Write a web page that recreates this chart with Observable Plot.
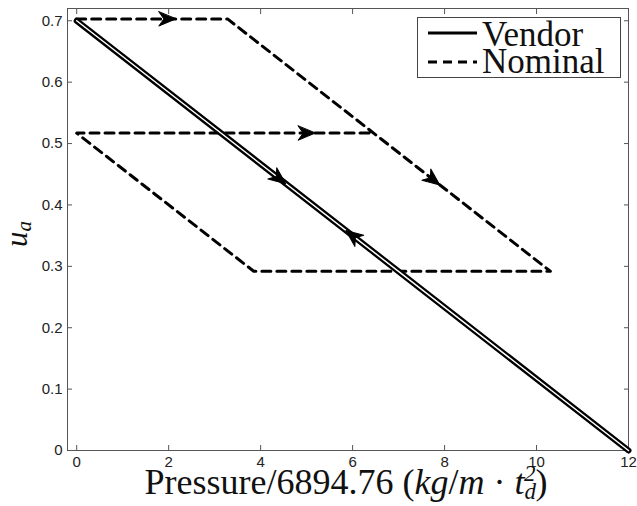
<!DOCTYPE html>
<html><head><meta charset="utf-8">
<script src="https://cdn.jsdelivr.net/npm/d3@7"></script>
<script src="https://cdn.jsdelivr.net/npm/@observablehq/plot@0.6"></script>
<style>body{margin:0;background:#fff} #chart{width:637px;height:506px}</style>
</head><body><div id="chart"></div>
<script>
// ---- data ----
const xTicks = [0, 2, 4, 6, 8, 10, 12];
const yTicks = [0, 0.1, 0.2, 0.3, 0.4, 0.5, 0.6, 0.7];
const seriesNames = ["Vendor", "Nominal"];

const vendorX = [0, 12];
const vendorY = [0.70, 0];

const nominalX = [0, 3.28, 10.3, 3.85, 0, 6.4];
const nominalY = [0.703, 0.703, 0.292, 0.292, 0.517, 0.517];

// arrowheads: position and direction (data units)
const arrowX  = [1.97, 5.0, 7.75, 4.4, 6.0];
const arrowY  = [0.703, 0.517, 0.441, 0.443, 0.35];
const arrowDX = [1, 1, 7.02, 12, -12];
const arrowDY = [0, 0, -0.411, -0.7, 0.7];

// ---- layout ----
const W = 637, H = 506, mL = 67, mR = 9, mT = 8, mB = 56;
const xDomain = [-0.2, 12], yDomain = [0, 0.72];

const vendor = vendorX.map((x, i) => ({x, y: vendorY[i]}));
const nominal = nominalX.map((x, i) => ({x, y: nominalY[i]}));

const sx = Plot.scale({x: {domain: xDomain, range: [mL, W - mR]}});
const sy = Plot.scale({y: {domain: yDomain, range: [H - mB, mT]}});
const arrows = arrowX.map((x, i) => {
  const a = sx.apply(x + arrowDX[i]) - sx.apply(x);
  const b = sy.apply(arrowY[i] + arrowDY[i]) - sy.apply(arrowY[i]);
  return {x, y: arrowY[i], angle: Math.atan2(a, -b) * 180 / Math.PI};
});

const stealth = {
  draw(ctx, l) {
    ctx.moveTo(0, -l);
    ctx.lineTo(l * 0.42, 0);
    ctx.lineTo(0, -l * 0.3);
    ctx.lineTo(-l * 0.42, 0);
    ctx.closePath();
  }
};

const tickFont = {fontSize: 15};
const plot = Plot.plot({
  width: W, height: H,
  marginLeft: mL, marginRight: mR, marginTop: mT, marginBottom: mB,
  style: {fontFamily: "'Liberation Sans', Arial, sans-serif", fontSize: "15px", color: "#222", background: "white"},
  x: {domain: xDomain, ticks: xTicks, label: null},
  y: {domain: yDomain, ticks: yTicks, label: null},
  marks: [
    Plot.frame({stroke: "#555", strokeWidth: 1}),
    Plot.axisX(xTicks, {anchor: "bottom", tickSize: -5, tickPadding: 11, label: null, stroke: "#555", ...tickFont}),
    Plot.axisX(xTicks, {anchor: "top", tickSize: -5, tickFormat: () => "", label: null, stroke: "#555"}),
    Plot.axisY(yTicks, {anchor: "left", tickSize: -5, tickPadding: 10, label: null, stroke: "#555", tickFormat: d => d === 0 ? "0" : d3.format(".1f")(d), ...tickFont}),
    Plot.axisY(yTicks, {anchor: "right", tickSize: -5, tickFormat: () => "", label: null, stroke: "#555"}),
    Plot.line(nominal, {x: "x", y: "y", stroke: "black", strokeWidth: 3, strokeDasharray: "9,6"}),
    Plot.line(vendor, {x: "x", y: "y", stroke: "black", strokeWidth: 6}),
    Plot.line(vendor, {x: "x", y: "y", stroke: "white", strokeWidth: 1.5}),
    Plot.vector(arrows, {x: "x", y: "y", rotate: "angle", length: 17, anchor: "middle", shape: stealth, fill: "black", stroke: "black", strokeWidth: 1})
  ]
});
document.getElementById("chart").appendChild(plot);

// ---- texts: axis labels and legend ----
const svg = d3.select(plot);
const serif = "'Liberation Serif', 'Times New Roman', serif";

const xl = svg.append("text")
  .attr("x", 346).attr("y", 494)
  .attr("text-anchor", "middle")
  .attr("font-family", serif).attr("font-size", 36).attr("fill", "#111");
xl.append("tspan").text("Pressure/6894.76 (");
xl.append("tspan").attr("font-style", "italic").text("kg");
xl.append("tspan").text("/");
xl.append("tspan").attr("font-style", "italic").text("m");
xl.append("tspan").text(" · ");
xl.append("tspan").attr("font-style", "italic").text("t");
xl.append("tspan").attr("font-style", "italic").attr("font-size", 23).attr("dy", 5).text("d");
xl.append("tspan").attr("font-style", "italic").attr("font-size", 23).attr("dx", -12).attr("dy", -18).text("2");
xl.append("tspan").attr("dy", 13).text(")");

const yl = svg.append("text")
  .attr("transform", "translate(27,234) rotate(-90)")
  .attr("text-anchor", "middle")
  .attr("font-family", serif).attr("font-size", 31).attr("fill", "#111");
yl.append("tspan").attr("font-style", "italic").text("u");
yl.append("tspan").attr("font-style", "italic").attr("font-size", 21).attr("dy", 4).text("a");

const lg = svg.append("g").attr("text-anchor", "start");
lg.append("rect").attr("x", 417.5).attr("y", 17.5).attr("width", 203).attr("height", 60)
  .attr("fill", "white").attr("stroke", "#444").attr("stroke-width", 1);
lg.append("line").attr("x1", 428).attr("x2", 477).attr("y1", 33).attr("y2", 33)
  .attr("stroke", "black").attr("stroke-width", 3);
lg.append("line").attr("x1", 428).attr("x2", 477).attr("y1", 62).attr("y2", 62)
  .attr("stroke", "black").attr("stroke-width", 3).attr("stroke-dasharray", "9,6");
lg.append("text").attr("x", 482).attr("y", 46).attr("text-anchor", "start").attr("font-family", serif).attr("font-size", 35).attr("fill", "#111").text(seriesNames[0]);
lg.append("text").attr("x", 482).attr("y", 73).attr("text-anchor", "start").attr("font-family", serif).attr("font-size", 35).attr("fill", "#111").text(seriesNames[1]);
</script>
</body></html>
